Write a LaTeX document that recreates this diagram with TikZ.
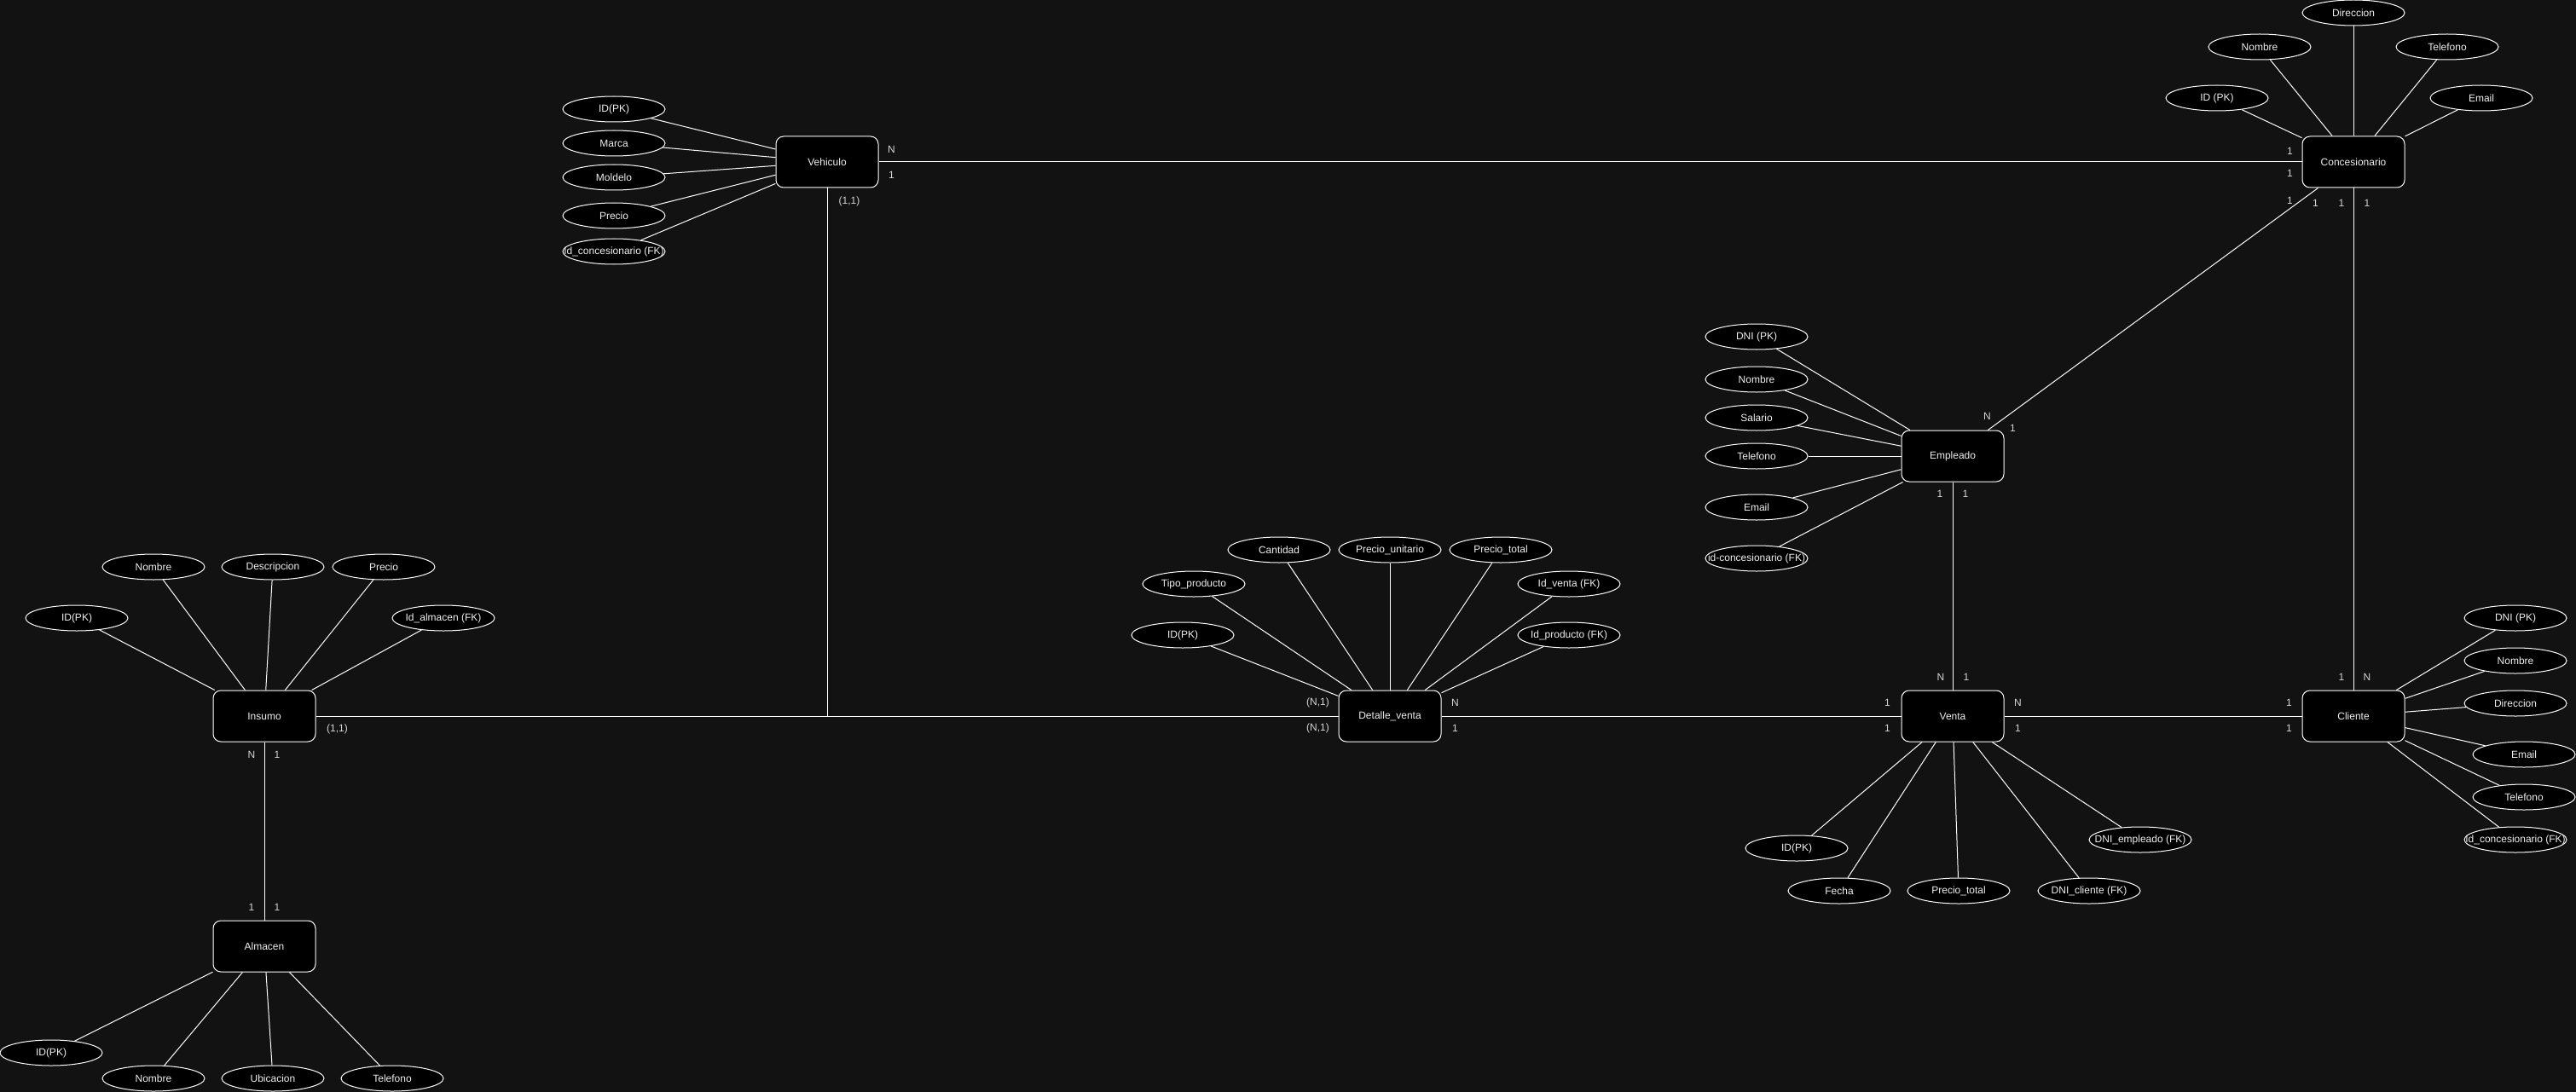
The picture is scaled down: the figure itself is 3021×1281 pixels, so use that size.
\documentclass[tikz,border=0pt]{standalone}
\usepackage{fontspec}
\setmainfont{Liberation Sans}
\usetikzlibrary{shapes, positioning}
\definecolor{bgdark}{HTML}{121212}
\definecolor{ink}{HTML}{F0F0F0}
\definecolor{cardink}{HTML}{D6D6D6}

\begin{document}
\begin{tikzpicture}[
    x=1pt, y=-1pt, on grid,
    every node/.style={font=\fontsize{12}{14}\selectfont, text=ink},
    entity/.style={rectangle, draw=white, rounded corners=9pt, fill=black, minimum width=120pt, minimum height=60pt, line width=1pt},
    attr/.style={ellipse, draw=white, fill=black, minimum width=120pt, minimum height=30pt, inner sep=0pt, line width=1pt,
        execute at begin node={\hbox to 0pt\bgroup\hss}, execute at end node={\hss\egroup}},
    rel/.style={draw=white, line width=1pt},
    attrline/.style={draw=white, line width=1pt},
    card/.style={text=cardink, inner sep=0pt}
]
\useasboundingbox (0,0) rectangle (3021,1281);
\fill[bgdark] (0,0) rectangle (3021,1281);

% Entities
\node[entity] (Vehiculo) at (970,190) {Vehiculo};
\node[entity, right=1790pt of Vehiculo] (Concesionario) {Concesionario};
\node[entity, below left=345pt and 470pt of Concesionario] (Empleado) {Empleado};
\node[entity, below=305pt of Empleado] (Venta) {Venta};
\node[entity, right=470pt of Venta] (Cliente) {Cliente};
\node[entity, left=660pt of Venta] (Detalle) {Detalle\_venta};
\node[entity, left=1320pt of Detalle] (Insumo) {Insumo};
\node[entity, below=270pt of Insumo] (Almacen) {Almacen};
\coordinate (VJoin) at (Vehiculo |- Insumo);

% Vehiculo attributes
\node[attr, above left=62pt and 250pt of Vehiculo] (VId) {ID(PK)};
\node[attr, above left=22pt and 250pt of Vehiculo] (VMarca) {Marca};
\node[attr, below left=18pt and 250pt of Vehiculo] (VModelo) {Moldelo};
\node[attr, below left=63pt and 250pt of Vehiculo] (VPrecio) {Precio};
\node[attr, below left=105pt and 250pt of Vehiculo] (VIdConc) {Id\_concesionario (FK)};

% Concesionario attributes
\node[attr, above=175pt of Concesionario] (CDir) {Direccion};
\node[attr, above left=135pt and 110pt of Concesionario] (CNombre) {Nombre};
\node[attr, above right=135pt and 110pt of Concesionario] (CTel) {Telefono};
\node[attr, above left=75pt and 160pt of Concesionario] (CId) {ID (PK)};
\node[attr, above right=75pt and 150pt of Concesionario] (CEmail) {Email};

% Empleado attributes
\node[attr, above left=140pt and 230pt of Empleado] (EDni) {DNI (PK)};
\node[attr, above left=90pt and 230pt of Empleado] (ENombre) {Nombre};
\node[attr, above left=45pt and 230pt of Empleado] (ESalario) {Salario};
\node[attr, left=230pt of Empleado] (ETel) {Telefono};
\node[attr, below left=60pt and 230pt of Empleado] (EEmail) {Email};
\node[attr, below left=120pt and 230pt of Empleado] (EIdConc) {id-concesionario (FK)};

% Venta attributes
\node[attr, below left=155pt and 183pt of Venta] (VeId) {ID(PK)};
\node[attr, below left=205pt and 133pt of Venta] (VeFecha) {Fecha};
\node[attr, below right=205pt and 7pt of Venta] (VePrecio) {Precio\_total};
\node[attr, below right=205pt and 160pt of Venta] (VeDniCli) {DNI\_cliente (FK)};
\node[attr, below right=145pt and 220pt of Venta] (VeDniEmp) {DNI\_empleado (FK)};

% Cliente attributes
\node[attr, above right=115pt and 190pt of Cliente] (ClDni) {DNI (PK)};
\node[attr, above right=65pt and 190pt of Cliente] (ClNombre) {Nombre};
\node[attr, above right=15pt and 190pt of Cliente] (ClDir) {Direccion};
\node[attr, below right=45pt and 200pt of Cliente] (ClEmail) {Email};
\node[attr, below right=95pt and 200pt of Cliente] (ClTel) {Telefono};
\node[attr, below right=145pt and 190pt of Cliente] (ClIdConc) {Id\_concesionario (FK)};

% Detalle_venta attributes
\node[attr, above left=195pt and 130pt of Detalle] (DCant) {Cantidad};
\node[attr, above=195pt of Detalle] (DPrecioU) {Precio\_unitario};
\node[attr, above right=195pt and 130pt of Detalle] (DPrecioT) {Precio\_total};
\node[attr, above left=155pt and 230pt of Detalle] (DTipo) {Tipo\_producto};
\node[attr, above right=155pt and 210pt of Detalle] (DIdVenta) {Id\_venta (FK)};
\node[attr, above left=95pt and 243pt of Detalle] (DId) {ID(PK)};
\node[attr, above right=95pt and 210pt of Detalle] (DIdProd) {Id\_producto (FK)};

% Insumo attributes
\node[attr, above left=175pt and 130pt of Insumo] (INombre) {Nombre};
\node[attr, above right=175pt and 10pt of Insumo] (IDesc) {Descripcion};
\node[attr, above right=175pt and 140pt of Insumo] (IPrecio) {Precio};
\node[attr, above left=115pt and 220pt of Insumo] (IId) {ID(PK)};
\node[attr, above right=115pt and 210pt of Insumo] (IIdAlm) {Id\_almacen (FK)};

% Almacen attributes
\node[attr, below left=125pt and 250pt of Almacen] (AId) {ID(PK)};
\node[attr, below left=155pt and 130pt of Almacen] (ANombre) {Nombre};
\node[attr, below right=155pt and 10pt of Almacen] (AUbic) {Ubicacion};
\node[attr, below right=155pt and 150pt of Almacen] (ATel) {Telefono};

% Attribute lines
\draw[attrline] (VId) -- (Vehiculo);
\draw[attrline] (VMarca) -- (Vehiculo);
\draw[attrline] (VModelo) -- (Vehiculo);
\draw[attrline] (VPrecio) -- (Vehiculo);
\draw[attrline] (VIdConc) -- (Vehiculo);
\draw[attrline] (CDir) -- (Concesionario);
\draw[attrline] (CNombre) -- (Concesionario);
\draw[attrline] (CTel) -- (Concesionario);
\draw[attrline] (CId) -- (Concesionario);
\draw[attrline] (CEmail) -- (Concesionario);
\draw[attrline] (EDni) -- (Empleado);
\draw[attrline] (ENombre) -- (Empleado);
\draw[attrline] (ESalario) -- (Empleado);
\draw[attrline] (ETel) -- (Empleado);
\draw[attrline] (EEmail) -- (Empleado);
\draw[attrline] (EIdConc) -- (Empleado);
\draw[attrline] (VeId) -- (Venta);
\draw[attrline] (VeFecha) -- (Venta);
\draw[attrline] (VePrecio) -- (Venta);
\draw[attrline] (VeDniCli) -- (Venta);
\draw[attrline] (VeDniEmp) -- (Venta);
\draw[attrline] (ClDni) -- (Cliente);
\draw[attrline] (ClNombre) -- (Cliente);
\draw[attrline] (ClDir) -- (Cliente);
\draw[attrline] (ClEmail) -- (Cliente);
\draw[attrline] (ClTel) -- (Cliente);
\draw[attrline] (ClIdConc) -- (Cliente);
\draw[attrline] (DCant) -- (Detalle);
\draw[attrline] (DPrecioU) -- (Detalle);
\draw[attrline] (DPrecioT) -- (Detalle);
\draw[attrline] (DTipo) -- (Detalle);
\draw[attrline] (DIdVenta) -- (Detalle);
\draw[attrline] (DId) -- (Detalle);
\draw[attrline] (DIdProd) -- (Detalle);
\draw[attrline] (INombre) -- (Insumo);
\draw[attrline] (IDesc) -- (Insumo);
\draw[attrline] (IPrecio) -- (Insumo);
\draw[attrline] (IId) -- (Insumo);
\draw[attrline] (IIdAlm) -- (Insumo);
\draw[attrline] (AId) -- (Almacen);
\draw[attrline] (ANombre) -- (Almacen);
\draw[attrline] (AUbic) -- (Almacen);
\draw[attrline] (ATel) -- (Almacen);

% Relationships
\draw[rel] (Vehiculo) -- (Concesionario)
    node[card, pos=0, xshift=15pt, yshift=15pt] {N}
    node[card, pos=0, xshift=15pt, yshift=-15pt] {1}
    node[card, pos=1, xshift=-14pt, yshift=13pt] {1}
    node[card, pos=1, xshift=-14pt, yshift=-13pt] {1};
\draw[rel] (Concesionario) -- (Empleado)
    node[card, pos=0, xshift=-33pt, yshift=-15pt] {1}
    node[card, pos=0, xshift=-3pt, yshift=-18pt] {1}
    node[card, pos=1, xshift=-1pt, yshift=16pt] {N}
    node[card, pos=1, xshift=29pt, yshift=2pt] {1};
\draw[rel] (Concesionario) -- (Cliente)
    node[card, pos=0, xshift=-14pt, yshift=-18pt] {1}
    node[card, pos=0, xshift=16pt, yshift=-18pt] {1}
    node[card, pos=1, xshift=-14pt, yshift=15pt] {1}
    node[card, pos=1, xshift=16pt, yshift=15pt] {N};
\draw[rel] (Empleado) -- (Venta)
    node[card, pos=0, xshift=-15pt, yshift=-14pt] {1}
    node[card, pos=0, xshift=15pt, yshift=-14pt] {1}
    node[card, pos=1, xshift=-14pt, yshift=15pt] {N}
    node[card, pos=1, xshift=16pt, yshift=15pt] {1};
\draw[rel] (Venta) -- (Cliente)
    node[card, pos=0, xshift=16pt, yshift=16pt] {N}
    node[card, pos=0, xshift=16pt, yshift=-14pt] {1}
    node[card, pos=1, xshift=-15pt, yshift=16pt] {1}
    node[card, pos=1, xshift=-15pt, yshift=-14pt] {1};
\draw[rel] (Detalle) -- (Venta)
    node[card, pos=0, xshift=16pt, yshift=16pt] {N}
    node[card, pos=0, xshift=16pt, yshift=-14pt] {1}
    node[card, pos=1, xshift=-16pt, yshift=16pt] {1}
    node[card, pos=1, xshift=-16pt, yshift=-14pt] {1};
\draw[rel] (Insumo) -- (Detalle)
    node[card, pos=0, xshift=25pt, yshift=-15pt] {(1,1)}
    node[card, pos=1, xshift=-24pt, yshift=16pt] {(N,1)}
    node[card, pos=1, xshift=-24pt, yshift=-14pt] {(N,1)};
\draw[rel] (Vehiculo) -- (VJoin)
    node[card, pos=0, xshift=26pt, yshift=-16pt] {(1,1)};
\draw[rel] (Insumo) -- (Almacen)
    node[card, pos=0, xshift=-15pt, yshift=-15pt] {N}
    node[card, pos=0, xshift=15pt, yshift=-15pt] {1}
    node[card, pos=1, xshift=-15pt, yshift=15pt] {1}
    node[card, pos=1, xshift=15pt, yshift=15pt] {1};

\end{tikzpicture}
\end{document}
